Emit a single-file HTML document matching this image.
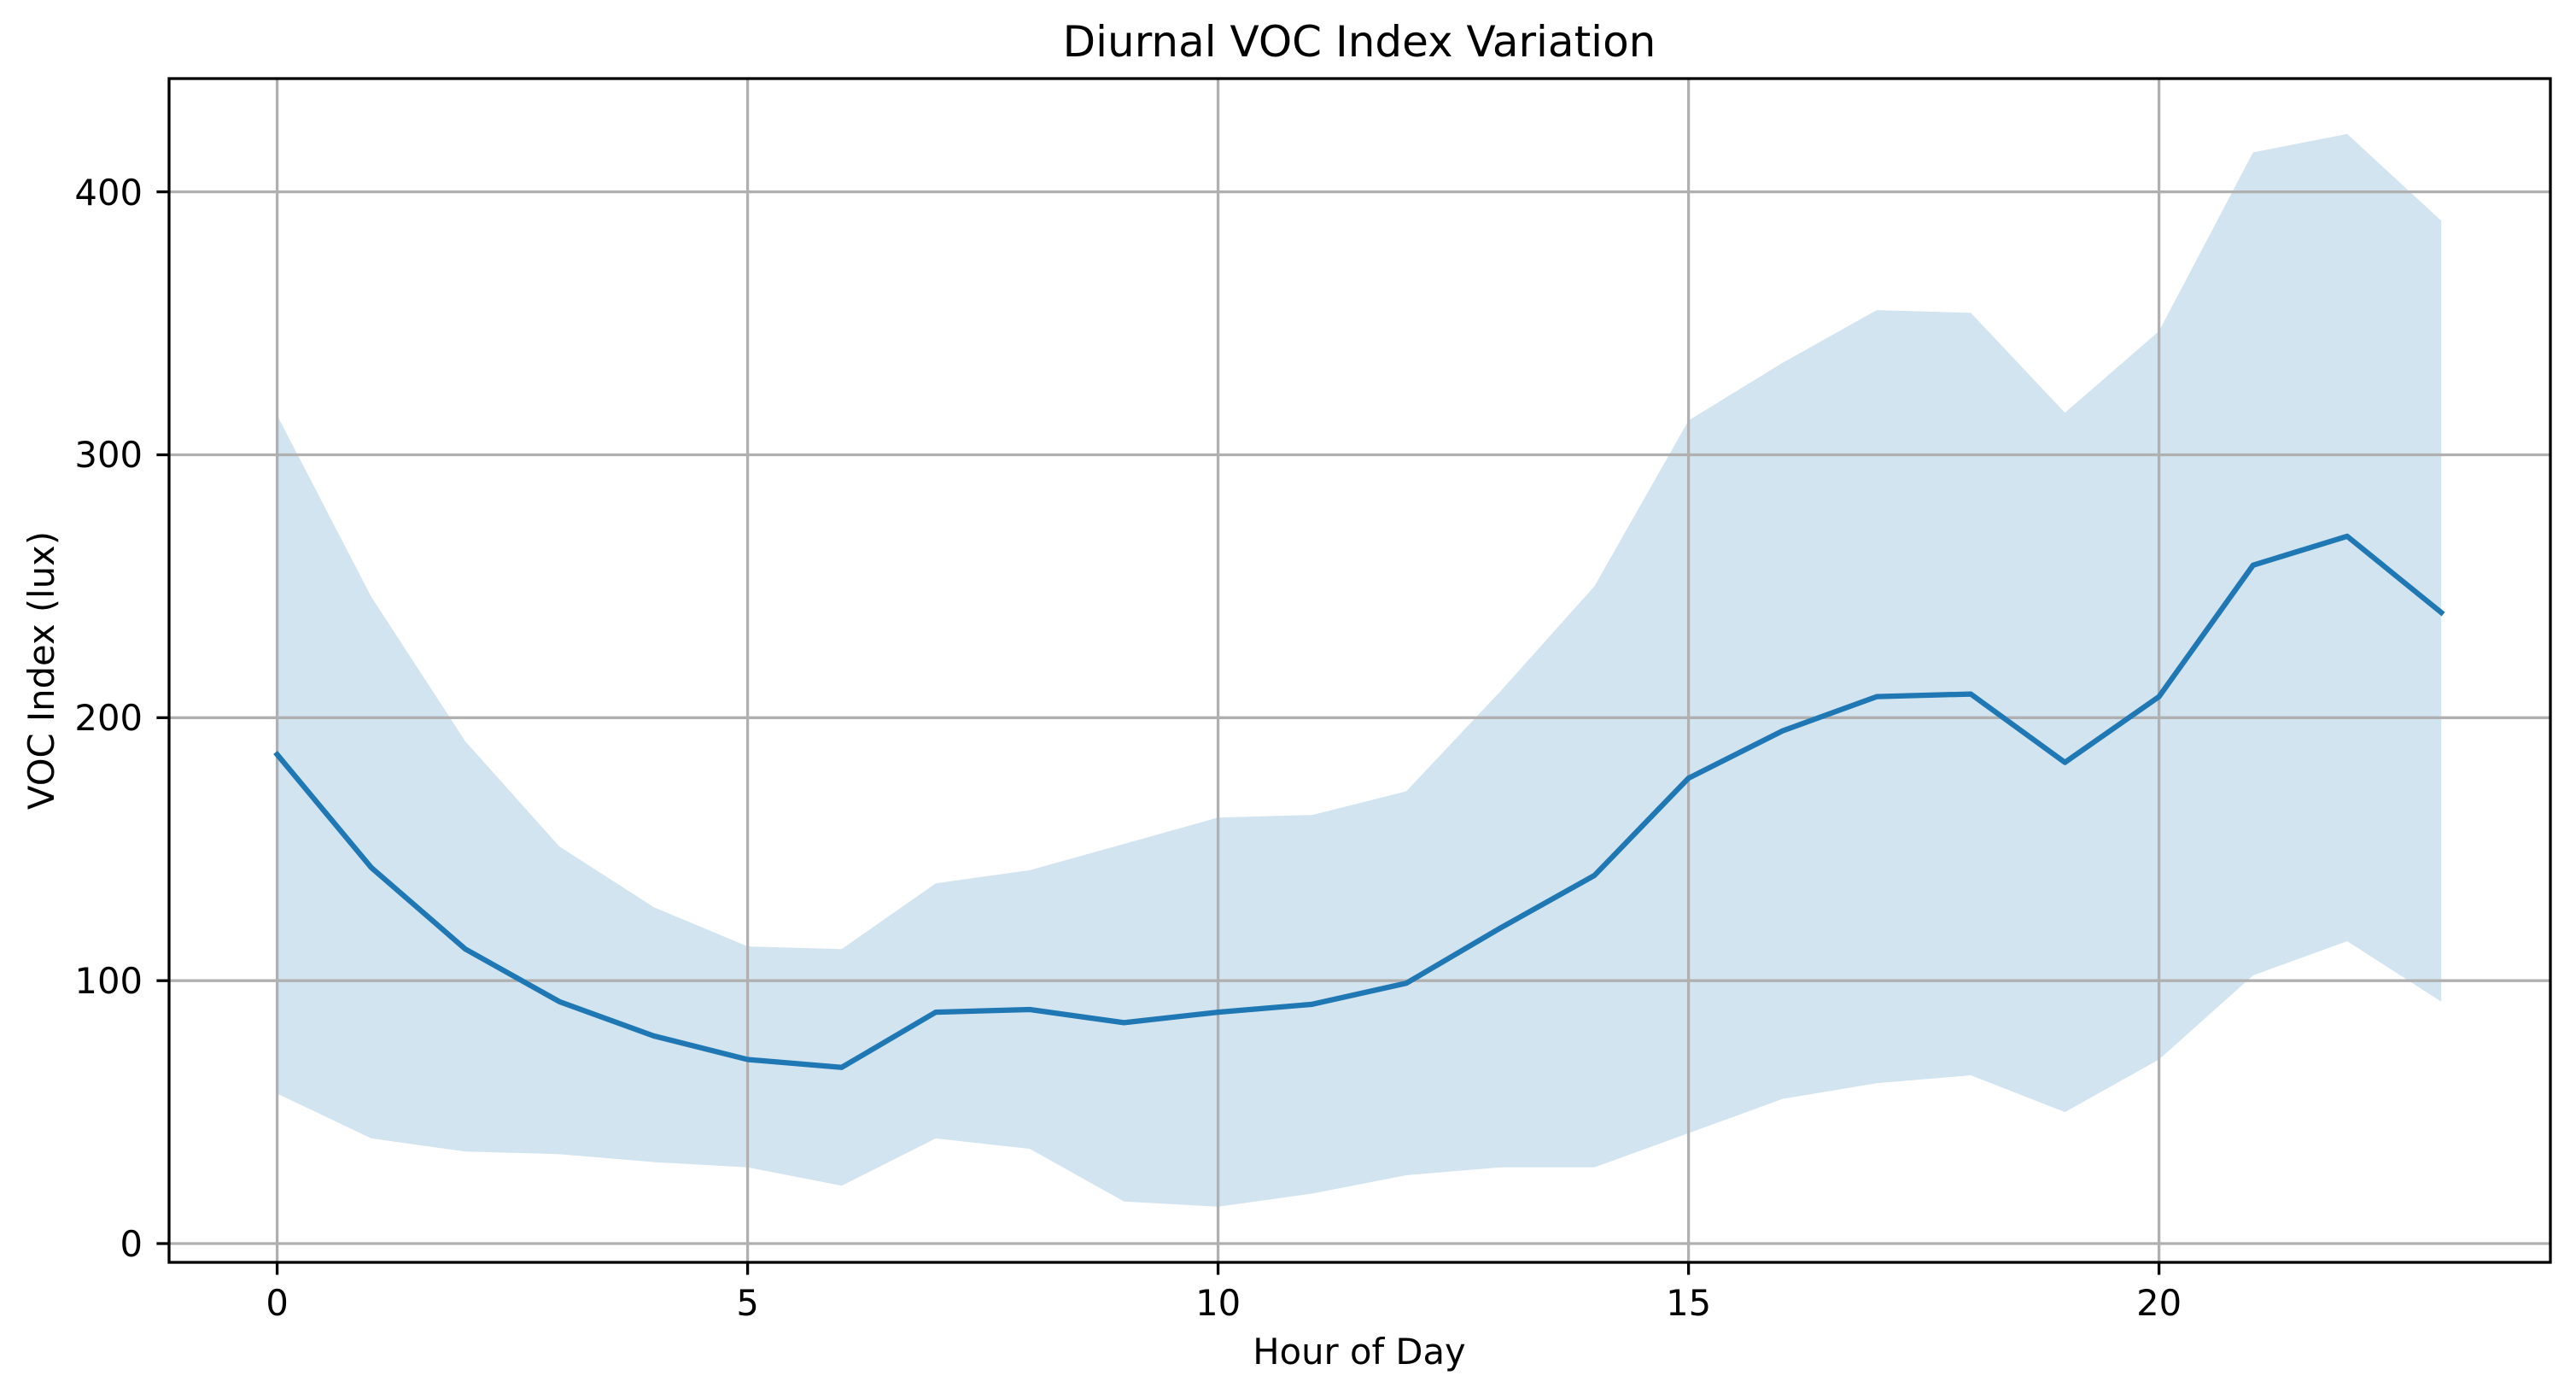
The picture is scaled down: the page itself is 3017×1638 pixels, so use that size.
<!DOCTYPE html>
<html><head><meta charset="utf-8"><style>html,body{margin:0;padding:0;background:#fff}svg{display:block}text{font-family:"DejaVu Sans","Liberation Sans",sans-serif;fill:#000}</style></head>
<body>
<svg width="3017" height="1638" viewBox="0 0 3017 1638" xmlns="http://www.w3.org/2000/svg">
<rect width="3017" height="1638" fill="#fff"/>
<g transform="translate(324.6,1456) scale(110.2,-3.0785)">
<polygon fill="#1f77b4" fill-opacity="0.2" points="0,315 1,246 2,191 3,151 4,128 5,113 6,112 7,137 8,142 9,152 10,162 11,163 12,172 13,210 14,250 15,313 16,335 17,355 18,354 19,316 20,347 21,415 22,422 23,389 23,92 22,115 21,102 20,70 19,50 18,64 17,61 16,55 15,42 14,29 13,29 12,26 11,19 10,14 9,16 8,36 7,40 6,22 5,29 4,31 3,34 2,35 1,40 0,57"/>
</g>
<g stroke="#b0b0b0" stroke-width="3.3">
<line x1="324.6" y1="92" x2="324.6" y2="1478"/><line x1="875.6" y1="92" x2="875.6" y2="1478"/><line x1="1426.6" y1="92" x2="1426.6" y2="1478"/><line x1="1977.6" y1="92" x2="1977.6" y2="1478"/><line x1="2528.6" y1="92" x2="2528.6" y2="1478"/>
<line x1="198" y1="1456" x2="2987" y2="1456"/><line x1="198" y1="1148.2" x2="2987" y2="1148.2"/><line x1="198" y1="840.3" x2="2987" y2="840.3"/><line x1="198" y1="532.5" x2="2987" y2="532.5"/><line x1="198" y1="224.6" x2="2987" y2="224.6"/>
</g>
<g transform="translate(324.6,1456) scale(110.2,-3.0785)">
<polyline fill="none" stroke="#1f77b4" stroke-width="6.25" vector-effect="non-scaling-stroke" stroke-linejoin="round" stroke-linecap="square" points="0,186 1,143 2,112 3,92 4,79 5,70 6,67 7,88 8,89 9,84 10,88 11,91 12,99 13,120 14,140 15,177 16,195 17,208 18,209 19,183 20,208 21,258 22,269 23,240"/>
</g>
<rect x="198" y="92" width="2789" height="1386" fill="none" stroke="#000" stroke-width="3.3"/>
<g stroke="#000" stroke-width="3.3">
<line x1="324.6" y1="1478" x2="324.6" y2="1492.6"/><line x1="875.6" y1="1478" x2="875.6" y2="1492.6"/><line x1="1426.6" y1="1478" x2="1426.6" y2="1492.6"/><line x1="1977.6" y1="1478" x2="1977.6" y2="1492.6"/><line x1="2528.6" y1="1478" x2="2528.6" y2="1492.6"/>
<line x1="183.4" y1="1456" x2="198" y2="1456"/><line x1="183.4" y1="1148.2" x2="198" y2="1148.2"/><line x1="183.4" y1="840.3" x2="198" y2="840.3"/><line x1="183.4" y1="532.5" x2="198" y2="532.5"/><line x1="183.4" y1="224.6" x2="198" y2="224.6"/>
</g>
<g font-size="41.7" text-anchor="middle">
<text x="324.6" y="1540">0</text><text x="875.6" y="1540">5</text><text x="1426.6" y="1540">10</text><text x="1977.6" y="1540">15</text><text x="2528.6" y="1540">20</text>
</g>
<g font-size="41.7" text-anchor="end">
<text x="167" y="1471">0</text><text x="167" y="1163">100</text><text x="167" y="855">200</text><text x="167" y="547">300</text><text x="167" y="240">400</text>
</g>
<text x="1592" y="1597" font-size="41.7" text-anchor="middle">Hour of Day</text>
<text transform="translate(63,785) rotate(-90)" font-size="41.7" text-anchor="middle">VOC Index (lux)</text>
<text x="1592" y="66" font-size="50" text-anchor="middle">Diurnal VOC Index Variation</text>
</svg>
</body></html>
